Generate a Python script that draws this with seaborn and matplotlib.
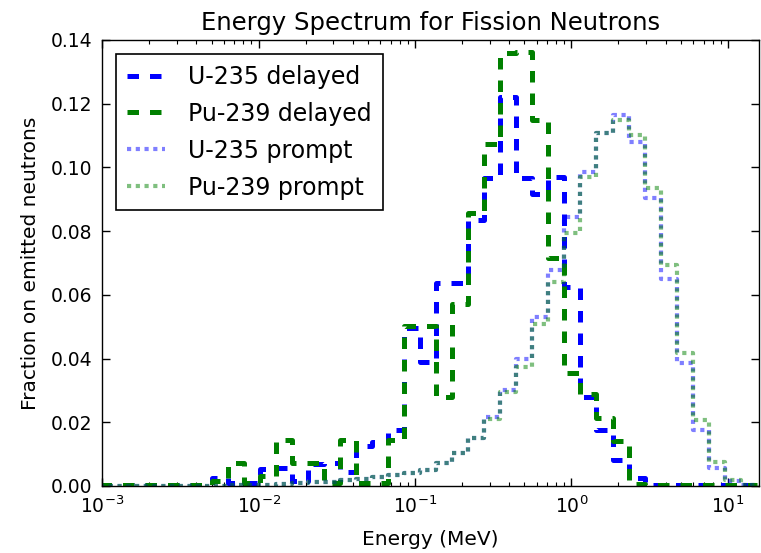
import numpy as np
import pandas as pd
import matplotlib
matplotlib.use("Agg")
import matplotlib.pyplot as plt
from matplotlib.ticker import FormatStrFormatter
import seaborn as sns

# Bin edges: 41 logarithmic energy bins (MeV)
energy_edges = np.logspace(-3.015, 1.185, 42)

u235_delayed = [0.0002, 0.0002, 0.0002, 0.0002, 0.0002, 0.0002, 0.0002, 0.0024, 0.0008, 0.0008,
                0.0053, 0.0055, 0.0015, 0.0068, 0.0071, 0.0045, 0.0127, 0.0138, 0.0175, 0.0496,
                0.0390, 0.0638, 0.0638, 0.0835, 0.0966, 0.1222, 0.0966, 0.0917, 0.0970, 0.0626,
                0.0280, 0.0176, 0.0082, 0.0025, 0.0002, 0.0002, 0.0002, 0.0002, 0.0002, 0.0002, 0.0002]
pu239_delayed = [0.0002, 0.0002, 0.0002, 0.0002, 0.0002, 0.0002, 0.0002, 0.0015, 0.0071, 0.0008,
                 0.0030, 0.0144, 0.0071, 0.0071, 0.0008, 0.0144, 0.0008, 0.0010, 0.0143, 0.0503,
                 0.0503, 0.0280, 0.0572, 0.0856, 0.1074, 0.1360, 0.1363, 0.1148, 0.0715, 0.0355,
                 0.0290, 0.0212, 0.0140, 0.0006, 0.0002, 0.0002, 0.0002, 0.0002, 0.0002, 0.0002, 0.0002]
u235_prompt = [0.0001, 0.0001, 0.0001, 0.0001, 0.0001, 0.0001, 0.0001, 0.0001, 0.0002, 0.0003,
               0.0004, 0.0006, 0.0008, 0.0011, 0.0014, 0.0018, 0.0022, 0.0027, 0.0033, 0.0042,
               0.0050, 0.0072, 0.0103, 0.0150, 0.0218, 0.0300, 0.0400, 0.0531, 0.0678, 0.0845,
               0.0987, 0.1107, 0.1165, 0.1081, 0.0903, 0.0650, 0.0385, 0.0176, 0.0056, 0.0015, 0.0003]
pu239_prompt = [0.0001, 0.0001, 0.0001, 0.0001, 0.0001, 0.0001, 0.0001, 0.0001, 0.0002, 0.0003,
                0.0004, 0.0006, 0.0008, 0.0011, 0.0014, 0.0018, 0.0022, 0.0027, 0.0033, 0.0042,
                0.0050, 0.0072, 0.0103, 0.0150, 0.0210, 0.0295, 0.0374, 0.0510, 0.0641, 0.0794,
                0.0970, 0.1107, 0.1150, 0.1102, 0.0934, 0.0694, 0.0417, 0.0207, 0.0076, 0.0020, 0.0004]

series_labels = ["U-235 delayed", "Pu-239 delayed", "U-235 prompt", "Pu-239 prompt"]

sns.set_theme(style="ticks")
plt.rcParams["font.family"] = ["DejaVu Sans"]
for key in ["text.color", "axes.labelcolor", "xtick.color", "ytick.color", "axes.edgecolor"]:
    plt.rcParams[key] = "black"

fig = plt.figure(figsize=(7.61, 5.53), dpi=100)
ax = fig.add_axes([0.1344, 0.1212, 0.8630, 0.8065])

styles = [
    dict(color="#0000ff", linestyle=(0, (2.3, 2.2)), linewidth=3.6),
    dict(color="#008000", linestyle=(0, (2.3, 2.2)), linewidth=3.6),
    dict(color="#0000ff", alpha=0.5, linestyle=(0, (1.0, 1.1)), linewidth=3.0),
    dict(color="#008000", alpha=0.5, linestyle=(0, (1.0, 1.1)), linewidth=3.0),
]

for label, vals, st in zip(series_labels, [u235_delayed, pu239_delayed, u235_prompt, pu239_prompt], styles):
    df = pd.DataFrame({"E": energy_edges, "frac": list(vals) + [vals[-1]]})
    sns.lineplot(data=df, x="E", y="frac", ax=ax, drawstyle="steps-post",
                 estimator=None, sort=False, label=label, **st)

ax.set_xscale("log")
ax.set_xlim(1e-3, 10 ** 1.2)
ax.set_ylim(0, 0.14)
ax.set_yticks(np.arange(0, 0.141, 0.02))
ax.yaxis.set_major_formatter(FormatStrFormatter("%.2f"))

ax.tick_params(axis="both", which="both", direction="in", top=True, right=True,
               labelsize=13.5, pad=7, colors="black")
ax.tick_params(which="major", length=6, width=1)
ax.tick_params(which="minor", length=3, width=0.8)
for sp in ax.spines.values():
    sp.set_visible(True)
    sp.set_color("black")
    sp.set_linewidth(1.0)

ax.set_title("Energy Spectrum for Fission Neutrons", fontsize=17.5, pad=7)
ax.set_xlabel("Energy (MeV)", fontsize=14.5, labelpad=9)
ax.set_ylabel("Fraction on emitted neutrons", fontsize=14.5, labelpad=8)

leg = ax.legend(loc="upper left", fontsize=17, frameon=True, fancybox=False,
                edgecolor="black", framealpha=1, handlelength=1.6, handletextpad=1.0,
                labelspacing=0.55, borderpad=0.45, borderaxespad=0.6)
leg.get_frame().set_linewidth(1.2)
for t in leg.get_texts():
    t.set_color("black")

fig.savefig("out.png", dpi=100)
